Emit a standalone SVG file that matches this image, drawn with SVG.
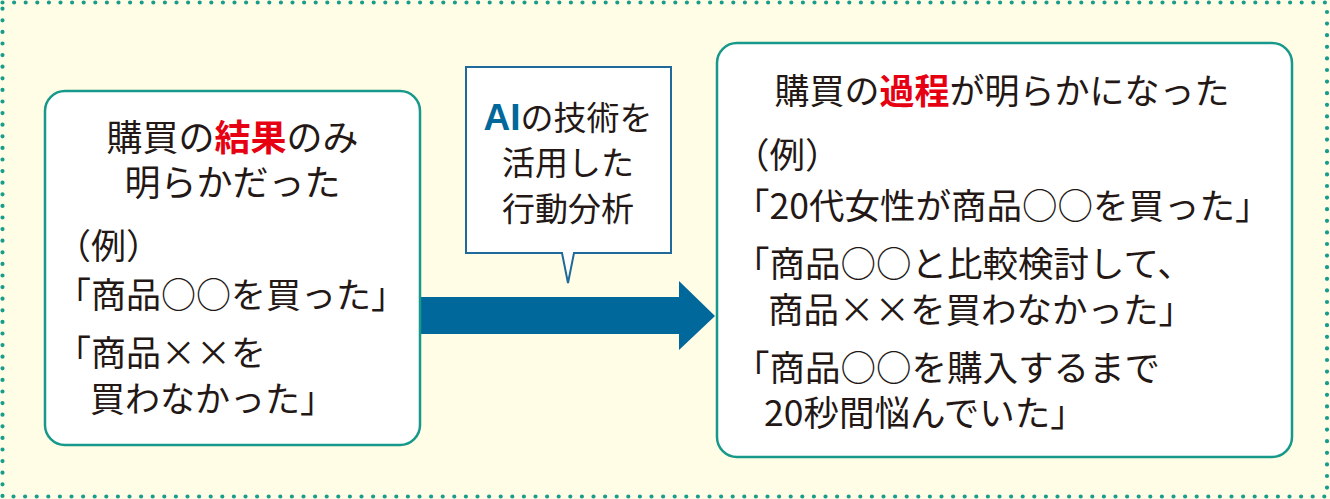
<svg xmlns="http://www.w3.org/2000/svg" width="1330" height="499" viewBox="0 0 1330 499">
<style>
.t{font-family:"Noto Sans CJK JP","Noto Sans CJK SC",sans-serif;fill:#231815;}
.red{fill:#E60012;font-weight:700;}
.box{fill:#ffffff;stroke:#16998A;stroke-width:2.5;}
.fw{font-feature-settings:"fwid";}
</style>
<rect x="0" y="0" width="1330" height="499" fill="#FFFDE5"/>
<rect x="2.5" y="2.5" width="1324.5" height="494" fill="none" stroke="#1A9C8C" stroke-width="4.2" stroke-linecap="round" stroke-dasharray="0 11.6"/>
<g id="connectors">
<path d="M418,297 H679 V281 L715,316 L679,350 V334 H418 Z" fill="#00689A"/>
</g>
<g id="left-box">
<rect class="box" x="45" y="91" width="375" height="354" rx="20"/>
<text class="t" x="232.5" y="151" font-size="36" text-anchor="middle">購買の<tspan class="red">結果</tspan>のみ</text>
<text class="t" x="232.5" y="196" font-size="36" text-anchor="middle">明らかだった</text>
<text class="t" x="56" y="259" font-size="35">（例）</text>
<text class="t" x="56" y="308" font-size="35">「商品○○を買った」</text>
<text class="t" x="56" y="366" font-size="35">「商品<tspan class="fw">××</tspan>を</text>
<text class="t" x="90" y="412" font-size="35">買わなかった」</text>
</g>
<g id="callout">
<path d="M466,67 H671 V253 H574 L568,283 L562,253 H466 Z" fill="#ffffff" stroke="#1F6A9A" stroke-width="2"/>
<text class="t" x="568" y="130" font-size="33" text-anchor="middle"><tspan font-family="'Liberation Sans',sans-serif" font-weight="700" font-size="37" fill="#00689A">AI</tspan>の技術を</text>
<text class="t" x="568" y="175" font-size="33" text-anchor="middle">活用した</text>
<text class="t" x="568" y="221" font-size="33" text-anchor="middle">行動分析</text>
</g>
<g id="right-box">
<rect class="box" x="717" y="43" width="575" height="414" rx="20"/>
<text class="t" x="1002" y="104" font-size="35" text-anchor="middle">購買の<tspan class="red">過程</tspan>が明らかになった</text>
<text class="t" x="734" y="168" font-size="35.5">（例）</text>
<text class="t" x="734" y="219" font-size="35.5">「20代女性が商品○○を買った」</text>
<text class="t" x="734" y="277" font-size="35.5">「商品○○と比較検討して、</text>
<text class="t" x="768" y="323" font-size="35.5">商品<tspan class="fw">××</tspan>を買わなかった」</text>
<text class="t" x="734" y="381" font-size="35.5">「商品○○を購入するまで</text>
<text class="t" x="764" y="426" font-size="35.5">20秒間悩んでいた」</text>
</g>
</svg>
